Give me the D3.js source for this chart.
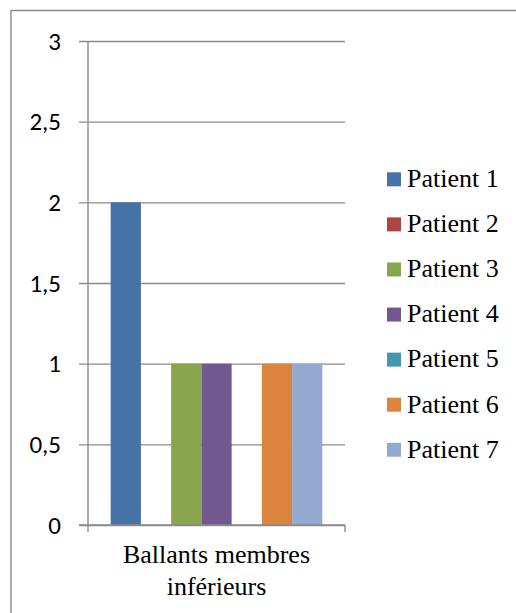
<!DOCTYPE html>
<html>
<head>
<meta charset="utf-8">
<script src="https://cdn.jsdelivr.net/npm/d3@7"></script>
<style>
  html, body { margin: 0; padding: 0; background: #fff; }
  svg { display: block; }
</style>
</head>
<body>
<svg id="chart" width="516" height="613"></svg>
<script>
// Chart data
const categories = ["Ballants membres inférieurs"];
const categoryLines = [["Ballants membres", "inférieurs"]];
const seriesNames = ["Patient 1", "Patient 2", "Patient 3", "Patient 4", "Patient 5", "Patient 6", "Patient 7"];
const seriesValues = [2, 0, 1, 1, 0, 1, 1];
const seriesColors = ["#4572A7", "#AA4643", "#89A54E", "#71588F", "#4198AF", "#DB843D", "#93A9CF"];
const yTicks = [0, 0.5, 1, 1.5, 2, 2.5, 3];

const SERIF = "Liberation Serif";
const SANS = "Carlito";

const svg = d3.select("#chart");
const plot = { left: 88, right: 345, top: 41, bottom: 525 };
const gridColor = "#8a8a8a";

// Frame lines (top and left edges)
svg.append("line").attr("x1", 11).attr("x2", 516).attr("y1", 10.5).attr("y2", 10.5)
  .attr("stroke", gridColor).attr("stroke-width", 1.4);
svg.append("line").attr("x1", 11).attr("x2", 11).attr("y1", 10).attr("y2", 613)
  .attr("stroke", gridColor).attr("stroke-width", 1.4);

const y = d3.scaleLinear().domain([0, 3]).range([plot.bottom, plot.top]);
const x0 = d3.scaleBand().domain(categories).range([plot.left, plot.right]).paddingInner(0).paddingOuter(0);
// gap width of 150% of one bar on each category
const groupPad = 1.5 / (seriesNames.length + 1.5);
const x1 = d3.scaleBand().domain(seriesNames)
  .range([x0(categories[0]) + x0.bandwidth() * groupPad / 2, x0(categories[0]) + x0.bandwidth() * (1 - groupPad / 2)]);

// Horizontal gridlines with left ticks
const yAxis = d3.axisLeft(y).tickValues(yTicks)
  .tickSize(-(plot.right - plot.left))
  .tickFormat(d => String(d).replace(".", ","));
const gy = svg.append("g").attr("transform", `translate(${plot.left},0)`).call(yAxis);
gy.select(".domain").remove();
gy.attr("font-family", SANS).attr("font-size", 25);
gy.selectAll(".tick line").attr("x1", -9).attr("stroke", gridColor).attr("stroke-width", 1.4);
gy.selectAll(".tick text")
  .attr("font-family", SANS)
  .attr("font-size", 25)
  .attr("x", -27)
  .attr("dy", "0.32em")
  .attr("fill", "#000");

// Bars
svg.append("g").selectAll("rect")
  .data(seriesNames.map((n, i) => ({ name: n, value: seriesValues[i], color: seriesColors[i] })))
  .join("rect")
  .attr("x", d => x1(d.name))
  .attr("width", x1.bandwidth())
  .attr("y", d => y(d.value))
  .attr("height", d => y(0) - y(d.value))
  .attr("fill", d => d.color);

// Vertical axis line
svg.append("line").attr("x1", plot.left).attr("x2", plot.left)
  .attr("y1", plot.top).attr("y2", plot.bottom + 7)
  .attr("stroke", gridColor).attr("stroke-width", 1.4);

// Category axis
svg.append("line").attr("x1", plot.left - 9).attr("x2", plot.right)
  .attr("y1", plot.bottom).attr("y2", plot.bottom)
  .attr("stroke", gridColor).attr("stroke-width", 1.4);
svg.append("line").attr("x1", plot.right).attr("x2", plot.right)
  .attr("y1", plot.bottom).attr("y2", plot.bottom + 7)
  .attr("stroke", gridColor).attr("stroke-width", 1.4);

const catX = x0(categories[0]) + x0.bandwidth() / 2;
const catText = svg.append("text")
  .attr("font-family", SERIF)
  .attr("font-size", 26)
  .attr("x", catX)
  .attr("y", 563)
  .attr("text-anchor", "middle")
  .attr("fill", "#000");
categoryLines[0].forEach((line, i) => {
  catText.append("tspan").attr("x", catX)
    .attr("dy", i === 0 ? 0 : 31.7).text(line);
});

// Legend
const legend = svg.append("g").selectAll("g")
  .data(seriesNames)
  .join("g")
  .attr("transform", (d, i) => `translate(387,${179.3 + i * 45.08})`);
legend.append("rect").attr("x", 0).attr("y", -7).attr("width", 14).attr("height", 14)
  .attr("fill", (d, i) => seriesColors[i]);
legend.append("text")
  .attr("font-family", SERIF)
  .attr("font-size", 26)
  .attr("x", 20).attr("y", 0).attr("dy", "0.3em")
  .attr("fill", "#000")
  .text(d => d);
</script>
</body>
</html>
